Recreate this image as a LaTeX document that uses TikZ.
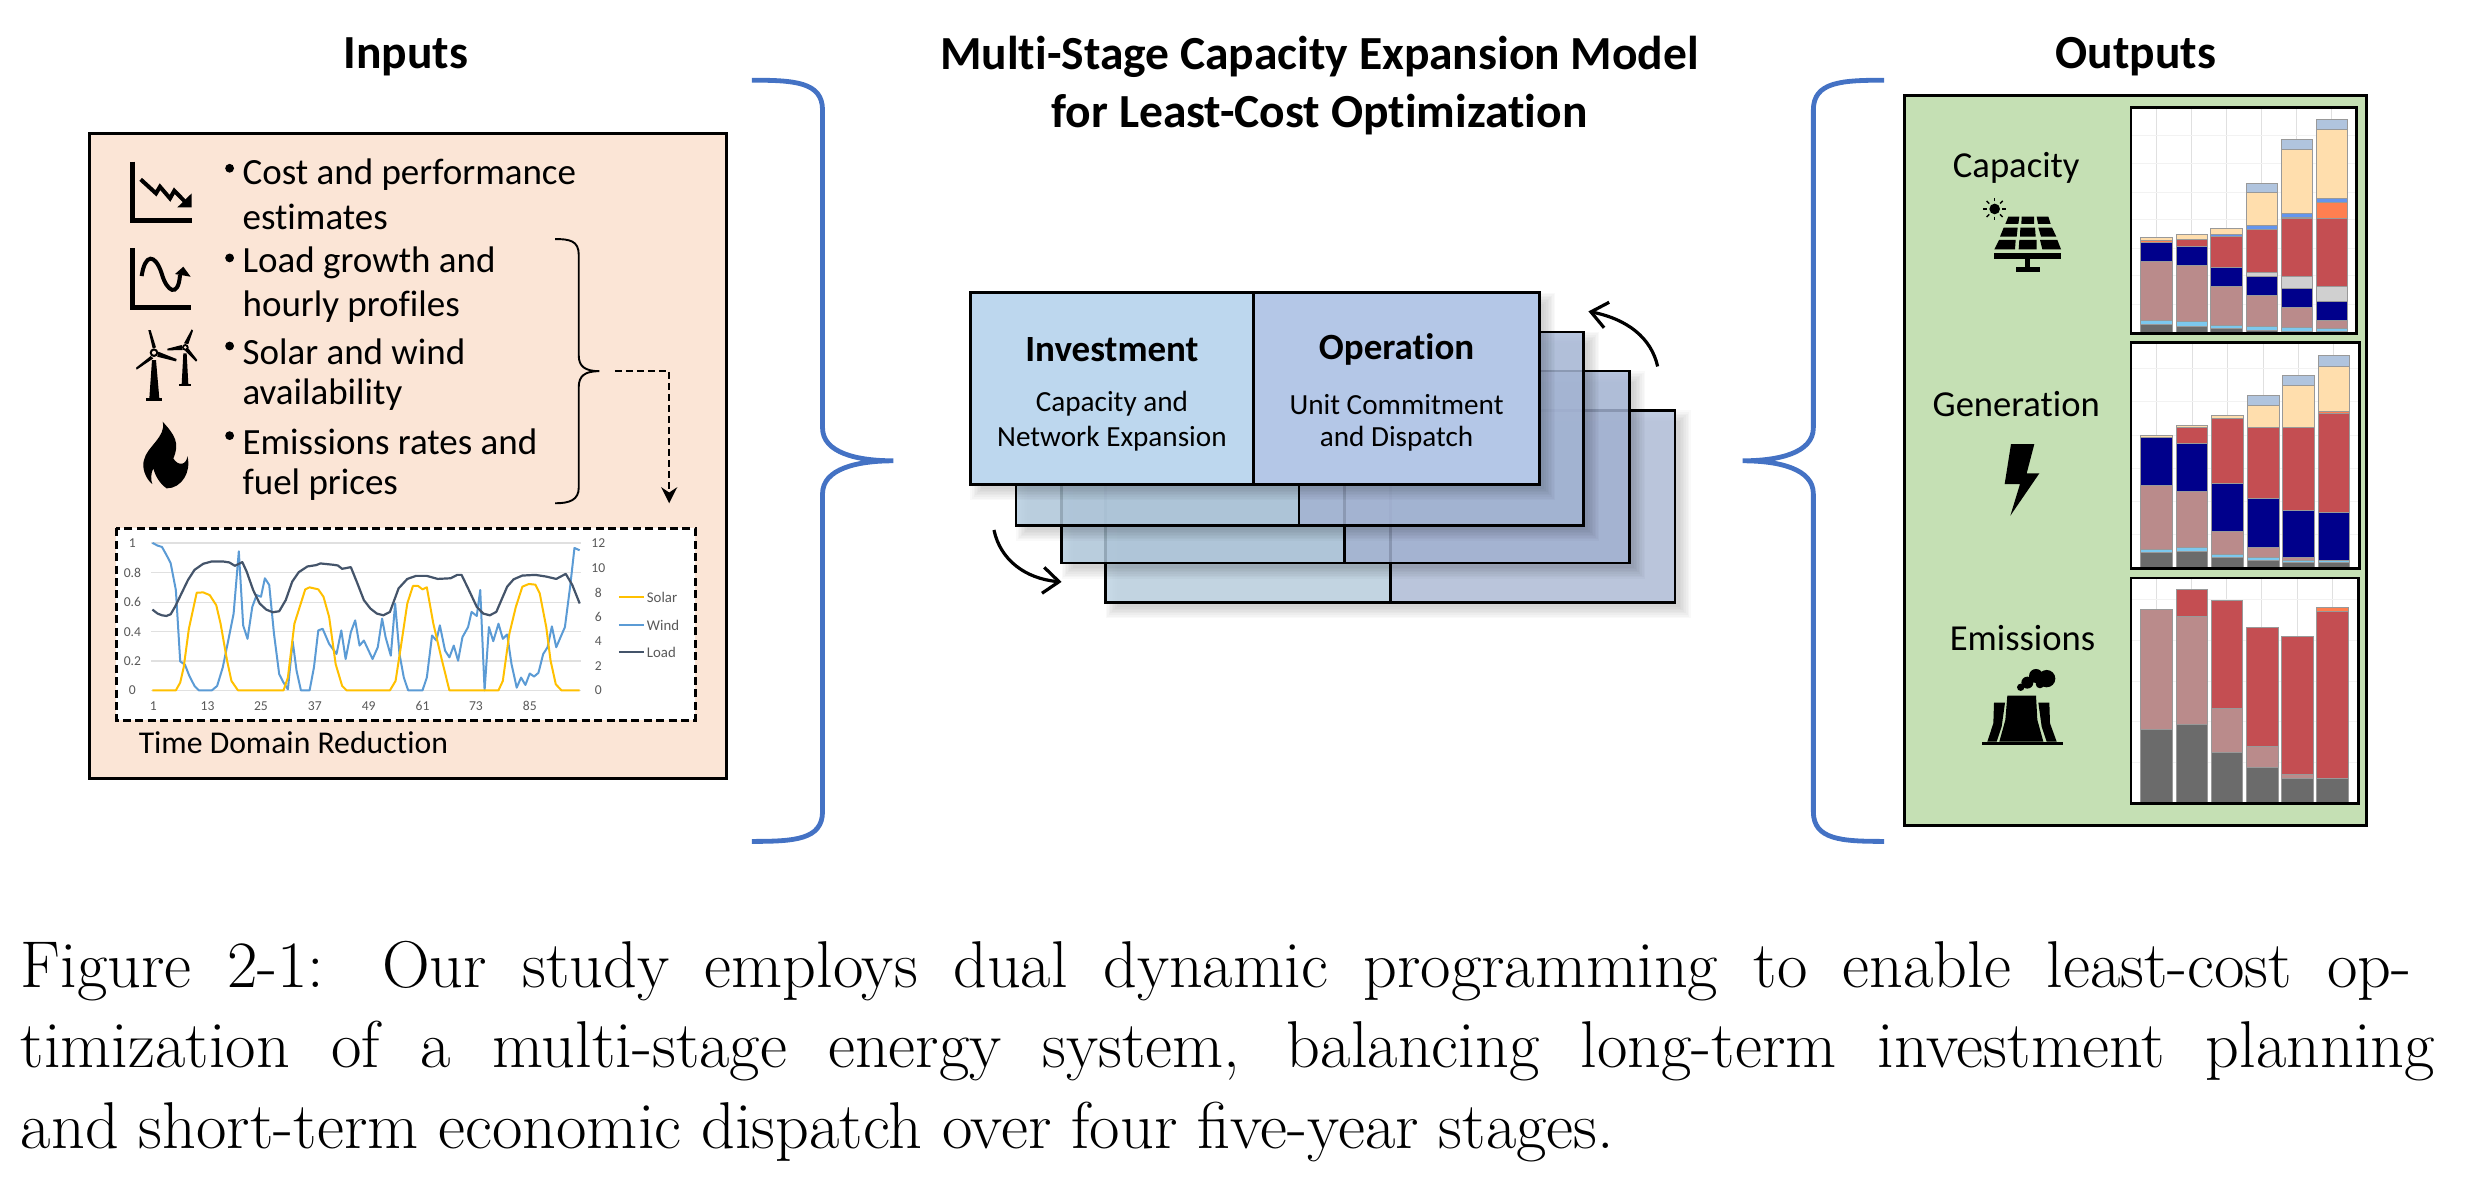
\documentclass[tikz,border=0pt]{standalone}
\usepackage{fontspec}
\usetikzlibrary{arrows.meta}
\newfontfamily\carl[Ligatures=NoCommon]{Carlito}
\definecolor{bracecol}{HTML}{4472C4}
\definecolor{peachbox}{HTML}{FBE5D6}
\definecolor{greenbox}{HTML}{C5E0B4}
\definecolor{cgr}{HTML}{6B6B6B}
\definecolor{clb}{HTML}{7CC8EE}
\definecolor{cro}{HTML}{BA8B8B}
\definecolor{cna}{HTML}{00008B}
\definecolor{clg}{HTML}{D0D0D0}
\definecolor{cre}{HTML}{C44E52}
\definecolor{cor}{HTML}{FF7F50}
\definecolor{cbl}{HTML}{6495ED}
\definecolor{cpe}{HTML}{FFDEAD}
\definecolor{cst}{HTML}{B0C4DE}
\definecolor{gridv}{HTML}{E0E0E0}
\definecolor{gridh}{HTML}{F2F2F2}
\definecolor{csolar}{HTML}{FFC000}
\definecolor{cwind}{HTML}{5B9BD5}
\definecolor{cload}{HTML}{44546A}
\definecolor{ctick}{HTML}{595959}
\definecolor{lfront}{HTML}{BDD7EE}
\definecolor{rfront}{HTML}{B4C7E7}
\definecolor{lback}{HTML}{B4CCE0}
\definecolor{rback}{HTML}{A8B8D8}
\tikzset{
  titletext/.style={font=\carl\bfseries\fontsize{23.75}{28}\selectfont,text=black,inner sep=0pt},
  bullettext/.style={font=\carl\fontsize{18.5}{22}\selectfont,text=black,inner sep=0pt,anchor=west},
  outlabel/.style={font=\carl\fontsize{18.3}{22}\selectfont,text=black,inner sep=0pt},
  headtext/.style={font=\carl\bfseries\fontsize{18.5}{22}\selectfont,inner sep=0pt},
  subtext/.style={font=\carl\fontsize{14.6}{17}\selectfont,inner sep=0pt},
  tickl/.style={font=\carl\fontsize{6.8}{8}\selectfont,text=ctick,inner sep=0pt},
  legl/.style={font=\carl\fontsize{7.4}{8}\selectfont,text=ctick,inner sep=0pt},
  captionline/.style={font=\fontsize{33.1}{40}\selectfont,inner sep=0pt,anchor=base west},
  bracket/.style={draw=bracecol,line width=2.4pt},
  slab/.style={draw=black,line width=1.3pt,fill opacity=.82},
  series/.style={line width=1pt,line join=round},
  bararrow/.style={line width=1.6pt,-{Straight Barb[length=8pt,width=13pt]}},
  axisline/.style={line width=2.4pt,line cap=butt,line join=miter},
  chartframe/.style={draw=black,line width=1.3pt},
}
\newcommand\barstack[4]{%
  \xdef\prevy{#3}%
  \foreach \t/\c in {#4}{%
    \path[fill=\c,draw=black!40,line width=.3pt] (#1,\prevy) rectangle (#2,\t);
    \xdef\prevy{\t}%
  }}
\newcommand\softshadow[4]{%
  \foreach \k in {0,1,...,7}{%
    \fill[black,opacity=.024] (#1+\k,#2+\k) rectangle (#3+10-\k,#4+10-\k);
  }}
\begin{document}
\begin{tikzpicture}[x=.78635pt,y=-.78635pt]
\useasboundingbox (0,0) rectangle (1568,749.7);
% titles
\node[titletext] (tin) at (258,36) {Inputs};
\node[titletext] (tmid) at (839,36) {Multi-Stage Capacity Expansion Model};
\node[titletext] (tmid2) at (839,73) {for Least-Cost Optimization};
\node[titletext] (tout) at (1358,36) {Outputs};
% braces
\draw[bracket] (478,51) .. controls (505,51) and (523,52) .. (523,70) -- (523,272) .. controls (523,288) and (545,293) .. (568,293) .. controls (545,293) and (523,298) .. (523,314) -- (523,516) .. controls (523,534) and (505,535) .. (478,535);
\draw[bracket] (1198,51) .. controls (1171,51) and (1153,52) .. (1153,70) -- (1153,272) .. controls (1153,288) and (1131,293) .. (1108,293) .. controls (1131,293) and (1153,298) .. (1153,314) -- (1153,516) .. controls (1153,534) and (1171,535) .. (1198,535);
% input box
\path[fill=peachbox,draw=black,line width=1.3pt] (57,85) rectangle (462,495);
\foreach \yy/\tt/\nm in {111/Cost and performance/ba,138/estimates/bb,167/Load growth and/bc,195/hourly profiles/bd,224/Solar and wind/be,251/availability/bf,281/Emissions rates and/bg,308/fuel prices/bh}{
  \node[bullettext] (\nm) at (154,\yy) {\tt};
}
\foreach \yy in {107,164,220,277}{\fill (146,\yy) circle (2.8);}
% small brace and dashed connector
\draw[line width=.95pt] (353,152) .. controls (362,152) and (368,153) .. (368,162) -- (368,226) .. controls (368,233) and (372,236) .. (381,236) .. controls (372,236) and (368,239) .. (368,246) -- (368,310) .. controls (368,318) and (362,320) .. (353,320);
\coordinate (dstart) at (391,236);
\coordinate (dcorner) at (425.5,236);
\coordinate (dend) at (425.5,320);
\draw[line width=.95pt,dashed,dash pattern=on 3.5pt off 2pt,-{Stealth[length=8pt,width=8pt]}] (dstart) -- (dcorner) -- (dend);
% icons in input box
\begin{scope}[shift={(76.3,95.4)},x=.16667pt,y=-.16667pt]
\draw[axisline] (38,35) -- (38,212) -- (215,212);
\draw[line width=2pt,line join=miter] (62,88) -- (108,130) -- (120,110) -- (150,145) -- (163,122) -- (195,155);
\fill (215,130) -- (215,172) -- (172,172) -- cycle;
\draw[axisline] (38,295) -- (38,472) -- (213,472);
\draw[line width=2pt] (65,378) .. controls (75,310) and (105,310) .. (125,370) .. controls (140,425) and (175,445) .. (180,375);
\fill (190,350) -- (212,380) -- (165,372) -- cycle;
\end{scope}
\begin{scope}[shift={(76.3,203.5)},x=.16667pt,y=-.16667pt]
% big turbine
\fill (88,235) -- (96,120) -- (108,120) -- (118,235) -- cycle;
\fill (78,235) rectangle (127,243);
\fill (98,85) -- (85,30) -- (92,30) -- (108,82) -- cycle;
\fill (115,95) -- (170,117) -- (168,124) -- (112,110) -- cycle;
\fill (92,108) -- (48,143) -- (50,149) -- (100,115) -- cycle;
\fill (102,98) circle (13);
\fill[peachbox] (102,98) circle (6);
% small turbine
\fill (185,193) -- (190,100) -- (200,100) -- (205,193) -- cycle;
\fill (178,193) rectangle (212,199);
\fill (192,70) -- (215,28) -- (219,32) -- (205,72) -- cycle;
\fill (185,75) -- (142,86) -- (142,91) -- (188,90) -- cycle;
\fill (205,85) -- (232,120) -- (228,125) -- (195,92) -- cycle;
\fill (196,82) circle (10);
\fill[peachbox] (196,82) circle (4.5);
% flame
\fill (128,305) .. controls (165,345) and (180,370) .. (160,415) .. controls (175,440) and (200,435) .. (202,408) .. controls (215,455) and (185,505) .. (140,505) .. controls (118,490) and (105,465) .. (100,445) .. controls (92,460) and (92,480) .. (97,492) .. controls (75,475) and (65,440) .. (72,420) .. controls (80,380) and (140,350) .. (128,305) -- cycle;
\end{scope}
% time domain chart
\path[fill=white,draw=black,line width=1.5pt,dashed,dash pattern=on 4pt off 2.2pt] (74,336) rectangle (442,458);
\begin{scope}[shift={(50.53,323.8)},x=.2171pt,y=-.1683pt]
\foreach \yy in {100,189,276,364,451,538}{\draw[gridv,line width=.6pt] (165,\yy) -- (1155,\yy);}
\foreach \yy/\tt in {100/1,189/0.8,276/0.6,364/0.4,451/0.2,538/0}{\node[tickl] at (122,\yy) {\tt};}
\foreach \yy/\tt in {100/12,175/10,248/8,321/6,393/4,466/2,538/0}{\node[tickl] at (1195,\yy) {\tt};}
\foreach \xx/\tt in {170/1,295/13,418/25,542/37,666/49,790/61,913/73,1037/85}{\node[tickl] at (\xx,585) {\tt};}
\draw[series,cwind] (168,100) -- (180,108) -- (190,112) -- (200,135) -- (210,160) -- (222,240) -- (232,452) -- (243,462) -- (253,495) -- (265,525) -- (275,538) -- (305,538) -- (317,525) -- (330,470) -- (345,375) -- (355,310) -- (367,125) -- (377,345) -- (387,385) -- (398,290) -- (408,255) -- (418,260) -- (427,205) -- (437,225) -- (448,370) -- (460,490) -- (470,515) -- (480,535) -- (491,392) -- (500,480) -- (510,538) -- (530,538) -- (540,470) -- (550,360) -- (560,355) -- (575,400) -- (592,430) -- (603,360) -- (613,445) -- (625,365) -- (635,330) -- (645,405) -- (655,390) -- (675,445) -- (687,410) -- (697,325) -- (705,380) -- (717,435) -- (727,280) -- (737,430) -- (747,500) -- (757,538) -- (790,538) -- (800,500) -- (812,375) -- (822,390) -- (830,345) -- (842,420) -- (852,440) -- (862,405) -- (872,450) -- (882,380) -- (895,350) -- (903,305) -- (915,317) -- (923,240) -- (933,538) -- (943,350) -- (953,392) -- (965,340) -- (975,385) -- (985,372) -- (995,460) -- (1007,530) -- (1017,500) -- (1027,522) -- (1037,488) -- (1047,497) -- (1057,486) -- (1068,430) -- (1078,410) -- (1088,348) -- (1098,410) -- (1108,380) -- (1118,350) -- (1130,230) -- (1140,115) -- (1152,122);
\draw[series,csolar] (168,538) -- (222,538) -- (232,515) -- (240,470) -- (252,355) -- (270,248) -- (285,247) -- (300,255) -- (315,285) -- (325,340) -- (340,450) -- (350,510) -- (365,538) -- (470,538) -- (480,500) -- (495,340) -- (520,238) -- (530,232) -- (550,238) -- (562,260) -- (575,320) -- (590,460) -- (605,525) -- (615,538) -- (715,538) -- (728,510) -- (740,410) -- (755,280) -- (768,228) -- (780,228) -- (790,238) -- (800,232) -- (815,340) -- (835,450) -- (852,538) -- (965,538) -- (975,510) -- (990,370) -- (1005,290) -- (1020,230) -- (1035,222) -- (1050,224) -- (1060,250) -- (1075,350) -- (1085,450) -- (1097,520) -- (1110,538) -- (1152,538);
\draw[series,cload,line width=1.1pt] (168,298) -- (180,310) -- (190,315) -- (200,317) -- (210,312) -- (220,290) -- (235,250) -- (250,210) -- (265,180) -- (285,162) -- (305,155) -- (330,155) -- (345,158) -- (358,168) -- (375,157) -- (385,185) -- (400,240) -- (415,280) -- (430,298) -- (445,306) -- (460,303) -- (475,270) -- (490,215) -- (505,187) -- (525,170) -- (545,166) -- (555,161) -- (585,165) -- (595,167) -- (605,177) -- (625,172) -- (640,220) -- (655,270) -- (670,295) -- (685,310) -- (700,315) -- (715,305) -- (735,235) -- (755,207) -- (775,198) -- (800,198) -- (825,207) -- (855,205) -- (870,195) -- (880,195) -- (895,235) -- (915,290) -- (930,310) -- (945,315) -- (960,305) -- (985,230) -- (1000,208) -- (1020,197) -- (1050,195) -- (1075,200) -- (1098,207) -- (1120,192) -- (1135,225) -- (1152,280);
\draw[series,csolar] (1242,262) -- (1300,262);
\draw[series,cwind] (1242,344) -- (1300,344);
\draw[series,cload] (1242,425) -- (1300,425);
\node[legl,anchor=west] (lsolar) at (1306,262) {Solar};
\node[legl,anchor=west] (lwind) at (1306,344) {Wind};
\node[legl,anchor=west] (lload) at (1306,425) {Load};
\end{scope}
\node[bullettext,font=\carl\fontsize{15.85}{19}\selectfont] (tdr) at (88,472) {Time Domain Reduction};
% stages
\softshadow{703}{261}{1065}{383}
\path[fill=lback!85!white,slab] (703,261) rectangle (884,383);
\path[fill=rback!85!white,slab] (884,261) rectangle (1065,383);
\softshadow{675}{236}{1036}{358}
\path[fill=lback,slab] (675,236) rectangle (855,358);
\path[fill=rback,slab] (855,236) rectangle (1036,358);
\softshadow{646}{211}{1007}{334}
\path[fill=lback!90!lfront,slab] (646,211) rectangle (826,334);
\path[fill=rback!80!rfront,slab] (826,211) rectangle (1007,334);
\softshadow{617}{186}{979}{308}
\path[fill=lfront,draw=black,line width=1.5pt] (617,186) rectangle (797,308);
\path[fill=rfront,draw=black,line width=1.5pt] (797,186) rectangle (979,308);
\node[headtext] (inv) at (707,222) {Investment};
\node[subtext] (inv1) at (707,257) {Capacity and};
\node[subtext] (inv2) at (707,279) {Network Expansion};
\node[headtext] (opr) at (888,222) {Operation};
\node[subtext] (opr1) at (888,257) {Unit Commitment};
\node[subtext] (opr2) at (888,279) {and Dispatch};
\coordinate (aoa) at (1054,233);
\coordinate (aob) at (1010,198);
\coordinate (aic) at (632,337);
\coordinate (aid) at (675,370);
\draw[bararrow] (aoa) .. controls (1050,215) and (1035,203) .. (aob);
\draw[bararrow] (aic) .. controls (636,356) and (652,368) .. (aid);
% outputs
\path[fill=greenbox,draw=black,line width=1.5pt] (1211,61) rectangle (1505,525);
\node[outlabel] (lcap) at (1282,107) {Capacity};
\node[outlabel] (lgen) at (1282,257) {Generation};
\node[outlabel] (lemi) at (1286,406) {Emissions};
% chart 1
\begin{scope}[shift={(1208.1,57.2)},x=.16667pt,y=-.16667pt]
\fill[white] (693,52) rectangle (1370,730);
\foreach \xx in {769,875,980,1085,1190,1295}{\draw[gridv,line width=.5pt] (\xx,52) -- (\xx,730);}
\foreach \yy in {137,222,307,390,475,558,643}{\draw[gridh,line width=.5pt] (693,\yy) -- (1370,\yy);}
\barstack{722}{817}{728}{702/cgr,690/clb,515/cro,458/cna,450/cor,443/cpe}
\barstack{828}{922}{728}{708/cgr,695/clb,527/cro,470/cna,447/cre,433/cpe}
\barstack{932}{1028}{728}{716/cgr,705/clb,590/cro,533/cna,440/cre,433/cbl,415/cpe}
\barstack{1038}{1132}{728}{720/cgr,710/clb,615/cro,558/cna,547/clg,418/cre,405/cbl,307/cpe,280/cst}
\barstack{1143}{1238}{728}{723/cgr,712/clb,652/cro,596/cna,558/clg,385/cre,383/cor,369/cbl,178/cpe,148/cst}
\barstack{1248}{1343}{728}{723/cgr,715/clb,692/cro,635/cna,588/clg,385/cre,337/cor,325/cbl,118/cpe,88/cst}
\draw[chartframe] (693,52) rectangle (1370,730);
% solar icon
\fill (284,357) circle (16);
\foreach \a in {0,45,...,315}{\draw[line width=.7pt] (284,357) ++(\a:23) -- ++(\a:11);}
\fill (325,380) -- (358,380) -- (355,402) -- (316,402) -- cycle;
\fill (365,380) -- (402,380) -- (402,402) -- (364,402) -- cycle;
\fill (410,380) -- (445,380) -- (452,402) -- (414,402) -- cycle;
\fill (311,413) -- (353,413) -- (350,440) -- (300,440) -- cycle;
\fill (361,413) -- (405,413) -- (407,440) -- (360,440) -- cycle;
\fill (415,413) -- (456,413) -- (469,440) -- (423,440) -- cycle;
\fill (297,450) -- (347,450) -- (345,478) -- (283,478) -- cycle;
\fill (358,450) -- (410,450) -- (410,478) -- (356,478) -- cycle;
\fill (420,450) -- (472,450) -- (483,478) -- (427,478) -- cycle;
\fill (283,490) rectangle (483,507);
\fill (375,507) rectangle (390,532);
\fill (347,532) rectangle (420,547);
\end{scope}
% chart 2
\begin{scope}[shift={(1208.1,216.2)},x=.16667pt,y=-.16667pt]
\fill[white] (693,8) rectangle (1378,685);
\foreach \xx in {769,877,982,1089,1195,1301}{\draw[gridv,line width=.5pt] (\xx,8) -- (\xx,685);}
\foreach \yy in {85,184,285,384,484,583}{\draw[gridh,line width=.5pt] (693,\yy) -- (1378,\yy);}
\barstack{722}{818}{682}{637/cgr,627/clb,437/cro,293/cna,287/cpe}
\barstack{829}{923}{682}{633/cgr,623/clb,454/cro,310/cna,262/cre,256/cpe}
\barstack{935}{1031}{682}{652/cgr,642/clb,574/cro,430/cna,236/cre,226/cpe}
\barstack{1042}{1137}{682}{660/cgr,653/clb,621/cro,476/cna,261/cre,195/cpe,166/cst}
\barstack{1147}{1242}{682}{667/cgr,660/clb,653/cro,512/cna,263/cre,137/cpe,106/cst}
\barstack{1254}{1349}{682}{667/cgr,662/clb,518/cna,219/cre,213/cor,78/cpe,46/cst}
\draw[chartframe] (693,8) rectangle (1378,685);
% bolt
\fill (333,312) -- (403,312) -- (380,400) -- (418,400) -- (331,527) -- (360,432) -- (314,432) -- cycle;
\end{scope}
% chart 3
\begin{scope}[shift={(1208.1,362.4)},x=.16667pt,y=-.16667pt]
\fill[white] (693,24) rectangle (1375,700);
\foreach \xx in {769,875,979,1085,1191,1297}{\draw[gridv,line width=.5pt] (\xx,24) -- (\xx,700);}
\foreach \yy in {90,212,334,455,577}{\draw[gridh,line width=.5pt] (693,\yy) -- (1375,\yy);}
\barstack{721}{818}{697}{478/cgr,118/cro}
\barstack{828}{922}{697}{462/cgr,138/cro,59/cre}
\barstack{933}{1028}{697}{546/cgr,415/cro,90/cre}
\barstack{1038}{1134}{697}{592/cgr,530/cro,171/cre}
\barstack{1144}{1240}{697}{625/cgr,612/cro,198/cre}
\barstack{1250}{1345}{697}{625/cgr,125/cre,113/cor}
\draw[chartframe] (693,24) rectangle (1375,700);
% factory
\fill (282,398) -- (315,398) -- (305,470) -- (290,515) -- (262,515) -- (280,460) -- cycle;
\fill (415,398) -- (448,398) -- (450,460) -- (470,515) -- (440,515) -- (425,470) -- cycle;
\fill (322,377) -- (408,377) -- (412,450) -- (430,515) -- (298,515) -- (316,450) -- cycle;
\fill (245,515) rectangle (488,525);
\fill (362,352) circle (11);
\fill (382,338) circle (18);
\fill (408,318) circle (21);
\fill (440,326) circle (26);
\fill (420,342) circle (13);
\end{scope}
% caption
\node[captionline] (c1) at (13,628) {\hbox to 1195.5pt{Figure 2-1: Our study employs dual dynamic programming to enable least-cost op-}};
\node[captionline] (c2) at (13,679) {\hbox to 1207pt{timization of a multi-stage energy system, balancing long-term investment planning}};
\node[captionline] (c3) at (13,730) {and short-term economic dispatch over four five-year stages.};
\end{tikzpicture}
\end{document}
